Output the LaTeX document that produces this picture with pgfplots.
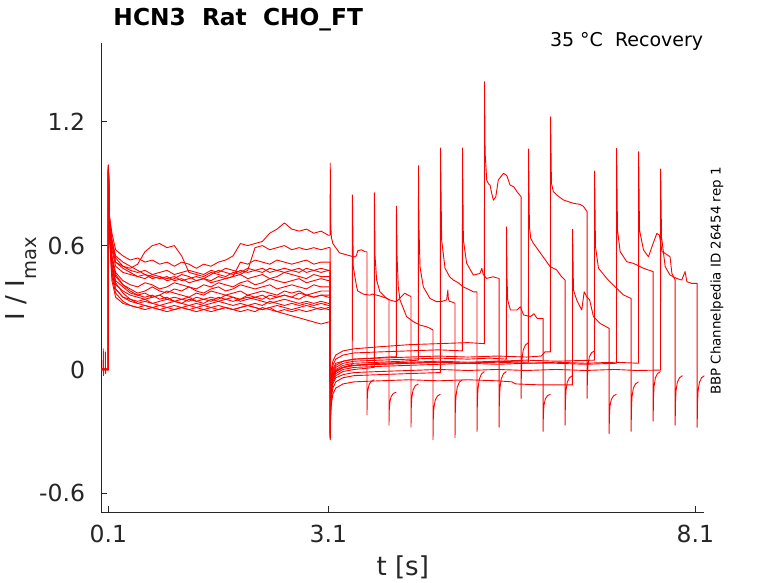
\documentclass[border=0pt]{standalone}
\usepackage{fontspec}
\setmainfont{DejaVu Sans}
\usepackage{pgfplots}
\usepackage{pgfplotstable}
\pgfplotsset{compat=1.18}
\definecolor{axgray}{rgb}{0.15,0.15,0.15}
\tikzset{trace/.style={red, solid, line width=0.9bp, line join=round, mark=none}}

% pulse-1 part of each of the 16 sweeps (columns k0..k15)
\pgfplotstableread{
t     k0   k1   k2   k3   k4   k5   k6   k7   k8   k9   k10  k11  k12  k13  k14  k15
0.005 0.0  0.003 -0.002 0.0 0.002 -0.003 0.0 0.001 -0.002 0.003 0.0 -0.001 0.002 0.0 -0.002 0.001
0.099 0.0  -0.002 0.003 0.001 0.0 0.002 -0.003 0.0 0.002 -0.001 0.003 0.0 -0.002 0.001 0.0 0.002
0.100 0.0  0.0  0.0  0.0  0.0  0.0  0.0  0.0  0.0  0.0  0.0  0.0  0.0  0.0  0.0  0.0
0.102 0.99 0.97 0.96 0.98 0.97 0.99 0.95 0.98 0.97 0.98 0.96 0.95 0.99 0.96 0.97 0.96
0.115 0.74 0.70 0.68 0.72 0.70 0.73 0.66 0.74 0.71 0.73 0.71 0.67 0.75 0.66 0.69 0.68
0.15  0.66 0.53 0.49 0.58 0.50 0.60 0.43 0.62 0.55 0.60 0.54 0.47 0.63 0.45 0.51 0.47
0.2   0.58 0.45 0.41 0.50 0.42 0.52 0.35 0.54 0.47 0.52 0.46 0.39 0.55 0.37 0.43 0.39
0.3   0.55 0.41 0.38 0.47 0.37 0.50 0.32 0.50 0.43 0.49 0.41 0.35 0.52 0.33 0.40 0.35
0.4   0.53 0.39 0.36 0.46 0.34 0.49 0.31 0.48 0.41 0.47 0.38 0.34 0.50 0.31 0.37 0.33
0.5   0.54 0.37 0.35 0.45 0.32 0.51 0.30 0.47 0.40 0.45 0.36 0.33 0.48 0.30 0.36 0.32
0.6   0.52 0.38 0.34 0.44 0.31 0.57 0.31 0.48 0.42 0.46 0.35 0.34 0.46 0.29 0.37 0.33
0.7   0.53 0.40 0.35 0.46 0.30 0.60 0.30 0.46 0.41 0.44 0.36 0.32 0.45 0.30 0.35 0.32
0.8   0.51 0.38 0.36 0.45 0.31 0.61 0.29 0.47 0.39 0.45 0.34 0.33 0.44 0.29 0.36 0.31
0.9   0.52 0.37 0.34 0.44 0.30 0.59 0.30 0.48 0.40 0.43 0.35 0.34 0.45 0.28 0.38 0.32
1.0   0.50 0.39 0.35 0.45 0.29 0.60 0.31 0.46 0.42 0.44 0.33 0.33 0.43 0.29 0.37 0.33
1.1   0.52 0.38 0.34 0.43 0.30 0.55 0.30 0.47 0.41 0.46 0.34 0.32 0.44 0.30 0.36 0.32
1.2   0.51 0.40 0.33 0.44 0.31 0.47 0.29 0.48 0.40 0.45 0.35 0.34 0.42 0.29 0.35 0.31
1.3   0.49 0.38 0.35 0.45 0.30 0.46 0.30 0.47 0.39 0.43 0.33 0.33 0.43 0.28 0.37 0.32
1.4   0.51 0.37 0.34 0.44 0.29 0.45 0.31 0.46 0.41 0.44 0.34 0.32 0.44 0.29 0.36 0.31
1.5   0.50 0.39 0.35 0.43 0.30 0.47 0.30 0.48 0.40 0.46 0.33 0.34 0.42 0.28 0.38 0.32
1.6   0.52 0.40 0.34 0.45 0.31 0.46 0.29 0.47 0.42 0.48 0.35 0.33 0.43 0.29 0.37 0.33
1.7   0.53 0.38 0.36 0.44 0.30 0.45 0.30 0.49 0.41 0.47 0.34 0.34 0.44 0.30 0.36 0.32
1.8   0.55 0.39 0.35 0.45 0.29 0.47 0.29 0.48 0.40 0.46 0.33 0.35 0.45 0.29 0.37 0.31
1.9   0.61 0.41 0.34 0.46 0.30 0.46 0.30 0.47 0.42 0.48 0.34 0.33 0.52 0.28 0.38 0.32
2.0   0.60 0.40 0.36 0.44 0.31 0.48 0.31 0.49 0.43 0.47 0.35 0.34 0.51 0.29 0.36 0.31
2.1   0.61 0.39 0.35 0.45 0.30 0.59 0.30 0.48 0.41 0.48 0.34 0.35 0.53 0.28 0.37 0.32
2.2   0.62 0.40 0.34 0.46 0.29 0.60 0.29 0.47 0.42 0.49 0.33 0.36 0.52 0.30 0.38 0.31
2.3   0.66 0.41 0.36 0.44 0.30 0.58 0.30 0.49 0.44 0.47 0.32 0.34 0.51 0.29 0.37 0.33
2.4   0.68 0.39 0.35 0.45 0.31 0.59 0.28 0.48 0.43 0.48 0.33 0.35 0.53 0.28 0.36 0.32
2.5   0.71 0.40 0.36 0.47 0.30 0.60 0.27 0.47 0.42 0.49 0.34 0.36 0.52 0.29 0.38 0.31
2.6   0.68 0.41 0.35 0.46 0.29 0.58 0.26 0.48 0.43 0.48 0.33 0.35 0.51 0.28 0.37 0.32
2.7   0.67 0.40 0.34 0.45 0.30 0.59 0.25 0.49 0.44 0.47 0.32 0.37 0.52 0.29 0.38 0.31
2.8   0.68 0.39 0.36 0.44 0.31 0.58 0.24 0.47 0.42 0.49 0.33 0.36 0.53 0.28 0.36 0.32
2.9   0.66 0.41 0.35 0.46 0.30 0.59 0.23 0.48 0.43 0.48 0.32 0.35 0.51 0.29 0.37 0.31
3.0   0.67 0.40 0.36 0.45 0.29 0.58 0.22 0.49 0.44 0.47 0.33 0.36 0.52 0.30 0.38 0.32
3.1   0.65 0.40 0.35 0.45 0.30 0.59 0.23 0.48 0.43 0.48 0.32 0.36 0.52 0.29 0.38 0.31
3.123 0.65 0.40 0.35 0.45 0.30 0.59 0.23 0.48 0.43 0.48 0.32 0.36 0.52 0.29 0.38 0.31
}\pulseone

\begin{document}
\begin{tikzpicture}
\begin{axis}[
  at={(0bp,0bp)}, anchor=south west,
  scale only axis, width=603bp, height=469bp,
  xmin=0.005, xmax=8.222, ymin=-0.692, ymax=1.58,
  axis x line*=bottom, axis y line*=left,
  axis line style={axgray, line width=0.5bp, -},
  xtick={0.1,3.1,8.1}, xticklabels={0.1,3.1,8.1},
  ytick={-0.6,0,0.6,1.2}, yticklabels={-0.6,0,0.6,1.2},
  tick align=inside, major tick length=6bp,
  every tick/.style={axgray, line width=0.5bp},
  ticklabel style={font=\fontsize{23.5bp}{28bp}\selectfont, text=axgray, inner sep=0pt},
  xticklabel style={yshift=-12.7bp},
  yticklabel style={xshift=-16bp},
]
% pulse 1 of every sweep
\foreach \k in {k0,k1,k2,k3,k4,k5,k6,k7,k8,k9,k10,k11,k12,k13,k14,k15}{
  \addplot[trace] table[x=t, y=\k] {\pulseone};
}
% pre-pulse artefacts
\addplot[trace] coordinates {(0.005,0.0)(0.03,0.0)(0.032,0.10)(0.035,-0.03)(0.04,0.0)(0.058,0.0)(0.06,0.085)(0.063,-0.02)(0.066,0.0)(0.1,0.0)};
% recovery interval, test pulse and tail of each sweep
\addplot[trace] coordinates {(3.123,0.65)(3.125,1.0)(3.13,0.72)(3.14,0.64)(3.16,0.61)(3.2,0.59)(3.25,0.565)(3.3,0.56)(3.35,0.555)(3.4,0.55)(3.45,0.545)(3.48,0.55)(3.5,0.575)(3.55,0.58)(3.6,0.57)(3.625,0.57)(3.625,-0.22)(3.629,-0.144)(3.637,-0.101)(3.655,-0.072)(3.685,-0.057)(3.725,-0.05)};
\addplot[trace] coordinates {(3.123,0.40)(3.125,-0.31)(3.128,-0.17)(3.14,-0.09)(3.16,-0.04)(3.2,-0.01)(3.3,0.01)(3.4,0.02)(3.425,0.025)(3.427,0.845)(3.439,0.497)(3.484,0.40)(3.5,0.38)(3.575,0.365)(3.665,0.36)(3.7,0.365)(3.802,0.356)(3.85,0.35)(3.893,0.345)(3.925,0.337)(3.925,-0.27)(3.929,-0.198)(3.937,-0.158)(3.955,-0.131)(3.985,-0.116)(4.025,-0.11)};
\addplot[trace] coordinates {(3.123,0.35)(3.125,-0.33)(3.128,-0.19)(3.14,-0.11)(3.16,-0.06)(3.2,-0.03)(3.3,-0.01)(3.45,0.0)(3.6,0.005)(3.725,0.01)(3.727,0.856)(3.735,0.55)(3.757,0.433)(3.8,0.377)(3.89,0.345)(3.95,0.335)(4.025,0.328)(4.06,0.34)(4.095,0.353)(4.14,0.369)(4.185,0.36)(4.225,0.353)(4.225,-0.28)(4.229,-0.186)(4.237,-0.133)(4.255,-0.097)(4.285,-0.078)(4.325,-0.07)};
\addplot[trace] coordinates {(3.123,0.45)(3.125,-0.32)(3.128,-0.14)(3.14,-0.06)(3.16,-0.01)(3.2,0.02)(3.3,0.04)(3.45,0.05)(3.7,0.055)(3.9,0.06)(4.025,0.062)(4.027,0.791)(4.035,0.55)(4.052,0.40)(4.075,0.337)(4.165,0.256)(4.255,0.232)(4.345,0.215)(4.435,0.207)(4.48,0.2)(4.525,0.191)(4.525,-0.34)(4.529,-0.241)(4.537,-0.186)(4.555,-0.149)(4.585,-0.129)(4.625,-0.12)};
\addplot[trace] coordinates {(3.123,0.30)(3.125,-0.34)(3.128,-0.16)(3.14,-0.08)(3.16,-0.03)(3.2,0.0)(3.3,0.02)(3.45,0.03)(3.8,0.035)(4.1,0.04)(4.325,0.045)(4.327,0.987)(4.333,0.70)(4.348,0.498)(4.393,0.40)(4.484,0.344)(4.575,0.328)(4.65,0.33)(4.711,0.337)(4.727,0.385)(4.735,0.34)(4.75,0.33)(4.8,0.325)(4.825,0.32)(4.825,-0.33)(4.829,-0.204)(4.837,-0.134)(4.855,-0.086)(4.885,-0.061)(4.925,-0.05)};
\addplot[trace] coordinates {(3.123,0.59)(3.125,-0.33)(3.128,-0.22)(3.14,-0.14)(3.16,-0.09)(3.2,-0.06)(3.3,-0.04)(3.45,-0.03)(3.8,-0.025)(4.2,-0.02)(4.625,-0.015)(4.627,1.073)(4.643,0.627)(4.689,0.49)(4.75,0.45)(4.802,0.433)(4.87,0.42)(4.935,0.40)(5.0,0.39)(5.075,0.376)(5.125,0.376)(5.125,-0.30)(5.129,-0.17)(5.137,-0.097)(5.155,-0.048)(5.185,-0.022)(5.225,-0.01)};
\addplot[trace] coordinates {(3.123,0.23)(3.125,-0.32)(3.128,-0.11)(3.14,-0.03)(3.16,0.02)(3.2,0.05)(3.3,0.07)(3.45,0.08)(3.8,0.085)(4.2,0.09)(4.6,0.095)(4.925,0.09)(4.927,1.073)(4.939,0.627)(4.984,0.514)(5.075,0.457)(5.165,0.465)(5.19,0.49)(5.21,0.46)(5.255,0.441)(5.345,0.449)(5.38,0.445)(5.425,0.441)(5.425,-0.28)(5.429,-0.159)(5.437,-0.091)(5.455,-0.045)(5.485,-0.021)(5.525,-0.01)};
\addplot[trace] coordinates {(3.123,0.48)(3.125,-0.30)(3.128,-0.08)(3.14,0.0)(3.16,0.04)(3.2,0.07)(3.3,0.09)(3.45,0.10)(3.8,0.11)(4.2,0.12)(4.6,0.125)(5.0,0.13)(5.225,0.125)(5.227,1.394)(5.235,1.05)(5.257,0.918)(5.28,0.9)(5.302,0.893)(5.325,0.853)(5.348,0.82)(5.38,0.836)(5.415,0.918)(5.485,0.95)(5.53,0.94)(5.575,0.893)(5.625,0.885)(5.67,0.861)(5.725,0.837)(5.725,-0.14)(5.729,-0.019)(5.737,0.049)(5.755,0.095)(5.785,0.119)(5.825,0.13)};
\addplot[trace] coordinates {(3.123,0.43)(3.125,-0.33)(3.128,-0.15)(3.14,-0.07)(3.16,-0.02)(3.2,0.01)(3.3,0.03)(3.45,0.04)(3.8,0.045)(4.2,0.05)(4.6,0.055)(5.0,0.05)(5.3,0.055)(5.525,0.05)(5.527,0.691)(5.533,0.45)(5.543,0.336)(5.58,0.288)(5.67,0.288)(5.715,0.304)(5.76,0.264)(5.855,0.256)(5.9,0.27)(5.945,0.247)(6.025,0.247)(6.025,-0.30)(6.029,-0.219)(6.037,-0.174)(6.055,-0.143)(6.085,-0.127)(6.125,-0.12)};
\addplot[trace] coordinates {(3.123,0.48)(3.125,-0.32)(3.128,-0.16)(3.14,-0.08)(3.16,-0.04)(3.2,-0.01)(3.3,0.01)(3.45,0.02)(3.8,0.025)(4.2,0.03)(4.6,0.035)(5.0,0.03)(5.4,0.04)(5.825,0.035)(5.827,1.068)(5.839,0.691)(5.857,0.635)(5.893,0.611)(6.025,0.546)(6.12,0.498)(6.211,0.482)(6.275,0.45)(6.325,0.433)(6.325,-0.27)(6.329,-0.162)(6.337,-0.102)(6.355,-0.061)(6.385,-0.04)(6.425,-0.03)};
\addplot[trace] coordinates {(3.123,0.32)(3.125,-0.31)(3.128,-0.13)(3.14,-0.05)(3.16,0.0)(3.2,0.03)(3.3,0.04)(3.45,0.05)(3.8,0.055)(4.2,0.06)(4.6,0.065)(5.0,0.06)(5.4,0.065)(5.8,0.06)(6.0,0.065)(6.05,0.085)(6.125,0.085)(6.127,1.224)(6.139,0.902)(6.165,0.861)(6.211,0.845)(6.302,0.821)(6.435,0.805)(6.525,0.8)(6.575,0.79)(6.625,0.764)(6.625,-0.14)(6.629,-0.037)(6.637,0.021)(6.655,0.06)(6.685,0.081)(6.725,0.09)};
\addplot[trace] coordinates {(3.123,0.36)(3.125,-0.34)(3.128,-0.25)(3.14,-0.17)(3.16,-0.12)(3.2,-0.09)(3.3,-0.07)(3.45,-0.06)(3.8,-0.055)(4.2,-0.05)(4.6,-0.055)(5.0,-0.05)(5.4,-0.055)(5.6,-0.06)(5.65,-0.07)(6.0,-0.075)(6.425,-0.075)(6.427,0.679)(6.439,0.385)(6.484,0.336)(6.552,0.288)(6.585,0.376)(6.62,0.352)(6.66,0.336)(6.711,0.256)(6.802,0.223)(6.925,0.199)(6.925,-0.31)(6.929,-0.225)(6.937,-0.177)(6.955,-0.145)(6.985,-0.128)(7.025,-0.12)};
\addplot[trace] coordinates {(3.123,0.52)(3.125,-0.33)(3.128,-0.17)(3.14,-0.09)(3.16,-0.04)(3.2,-0.01)(3.3,0.01)(3.45,0.02)(3.8,0.03)(4.2,0.035)(4.6,0.04)(5.0,0.035)(5.4,0.04)(5.8,0.045)(6.2,0.04)(6.725,0.045)(6.727,0.961)(6.739,0.595)(6.78,0.49)(6.893,0.441)(7.005,0.401)(7.12,0.361)(7.225,0.344)(7.225,-0.30)(7.229,-0.192)(7.237,-0.132)(7.255,-0.091)(7.285,-0.07)(7.325,-0.06)};
\addplot[trace] coordinates {(3.123,0.29)(3.125,-0.32)(3.128,-0.17)(3.14,-0.09)(3.16,-0.05)(3.2,-0.02)(3.3,0.0)(3.45,0.01)(3.8,0.015)(4.2,0.02)(4.6,0.025)(5.0,0.03)(5.4,0.025)(5.8,0.03)(6.2,0.03)(6.6,0.025)(7.025,0.03)(7.027,1.071)(7.039,0.676)(7.075,0.571)(7.165,0.522)(7.255,0.514)(7.395,0.49)(7.525,0.474)(7.525,-0.25)(7.529,-0.142)(7.537,-0.082)(7.555,-0.041)(7.585,-0.02)(7.625,-0.01)};
\addplot[trace] coordinates {(3.123,0.38)(3.125,-0.31)(3.128,-0.16)(3.14,-0.08)(3.16,-0.03)(3.2,-0.005)(3.3,0.01)(3.45,0.02)(3.8,0.025)(4.2,0.03)(4.6,0.035)(5.0,0.03)(5.4,0.035)(5.8,0.03)(6.2,0.035)(6.6,0.03)(7.0,0.035)(7.325,0.03)(7.327,1.055)(7.339,0.676)(7.393,0.579)(7.461,0.546)(7.525,0.611)(7.575,0.659)(7.61,0.651)(7.645,0.571)(7.685,0.563)(7.755,0.546)(7.78,0.466)(7.825,0.433)(7.825,-0.27)(7.829,-0.162)(7.837,-0.102)(7.855,-0.061)(7.885,-0.04)(7.925,-0.03)};
\addplot[trace] coordinates {(3.123,0.31)(3.125,-0.33)(3.128,-0.19)(3.14,-0.11)(3.16,-0.07)(3.2,-0.04)(3.3,-0.025)(3.45,-0.015)(3.8,-0.01)(4.2,-0.005)(4.6,0.0)(5.0,-0.005)(5.4,0.0)(5.8,-0.005)(6.2,0.0)(6.6,-0.005)(7.0,0.0)(7.3,-0.005)(7.625,-0.003)(7.627,0.971)(7.639,0.643)(7.689,0.498)(7.755,0.457)(7.845,0.441)(7.915,0.433)(7.96,0.474)(7.985,0.425)(8.05,0.417)(8.125,0.417)(8.125,-0.28)(8.129,-0.168)(8.137,-0.105)(8.155,-0.063)(8.185,-0.04)(8.225,-0.03)};
\end{axis}
% title and annotations (positions in bp from the axis' lower-left corner)
\node[anchor=base west, inner sep=0pt, font=\bfseries\fontsize{23.3bp}{28bp}\selectfont] at (12bp,486.3bp) {HCN3\ \ Rat\ \ CHO\_FT};
\node[anchor=base west, inner sep=0pt, font=\fontsize{19bp}{23bp}\selectfont] at (448.5bp,465.6bp) {35 °C\ \ Recovery};
\node[anchor=base west, inner sep=0pt, rotate=90, font=\fontsize{13.4bp}{16bp}\selectfont] at (619.2bp,117.3bp) {BBP Channelpedia ID 26454 rep 1};
\node[anchor=base, inner sep=0pt, text=axgray, font=\fontsize{26bp}{30bp}\selectfont] at (301.5bp,-62.7bp) {t [s]};
\node[anchor=base, inner sep=0pt, rotate=90, text=axgray, font=\fontsize{26bp}{30bp}\selectfont] at (-76.3bp,233.8bp) {I / I\raisebox{-12bp}{\fontsize{19.5bp}{22bp}\selectfont max}};
\pgfresetboundingbox
\useasboundingbox (-101.3bp,-70.7bp) rectangle (676.7bp,512.3bp);
\end{tikzpicture}
\end{document}
